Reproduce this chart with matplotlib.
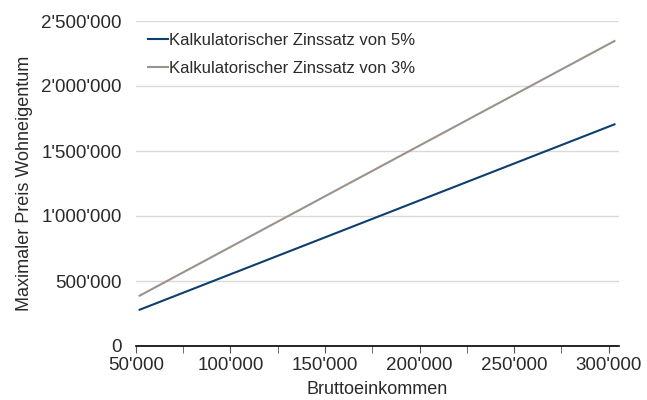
import matplotlib.pyplot as plt
from matplotlib.ticker import FuncFormatter, MultipleLocator

# data
einkommen = [52000, 303000]
preis_5 = [279000, 1705000]
preis_3 = [387000, 2346000]
label_5 = "Kalkulatorischer Zinssatz von 5%"
label_3 = "Kalkulatorischer Zinssatz von 3%"

plt.rcParams['font.family'] = ['Liberation Sans', 'DejaVu Sans']

def swiss(v, pos=None):
    return f"{int(round(v)):,}".replace(",", "'")

fig = plt.figure(figsize=(6.47, 4.00), dpi=100)
ax = fig.add_axes([0.210, 0.135, 0.747, 0.8125])

ax.plot(einkommen, preis_5, color='#0d3f6e', lw=1.5, label=label_5)
ax.plot(einkommen, preis_3, color='#9b928b', lw=1.5, label=label_3)

ax.set_xlim(50000, 305500)
ax.set_ylim(0, 2500000)
ax.xaxis.set_major_locator(MultipleLocator(50000))
ax.xaxis.set_minor_locator(MultipleLocator(25000))
ax.yaxis.set_major_locator(MultipleLocator(500000))
ax.xaxis.set_major_formatter(FuncFormatter(swiss))
ax.yaxis.set_major_formatter(FuncFormatter(swiss))

ax.grid(axis='y', color='#d9d9d9', lw=1)
ax.set_axisbelow(True)
for s in ['top', 'right', 'left']:
    ax.spines[s].set_visible(False)
ax.spines['bottom'].set_color('black')
ax.spines['bottom'].set_linewidth(1.2)

ax.tick_params(axis='x', which='both', direction='out', length=5, color='#555555', labelsize=13.5, pad=3)
ax.tick_params(axis='y', length=0, labelsize=13.5, pad=10)
for t in ax.get_xticklabels() + ax.get_yticklabels():
    t.set_color('#2a2a2a')

ax.set_xlabel("Bruttoeinkommen", fontsize=13, color='#2a2a2a', labelpad=5)
ax.set_ylabel("Maximaler Preis Wohneigentum", fontsize=13, color='#2a2a2a', labelpad=6)

ax.legend(loc='upper left', frameon=False, fontsize=12, handlelength=1.2,
          handletextpad=0.1, labelspacing=0.8, bbox_to_anchor=(0.0, 1.0),
          borderaxespad=0.3, labelcolor='#2a2a2a')

fig.savefig("out.png", dpi=100)
